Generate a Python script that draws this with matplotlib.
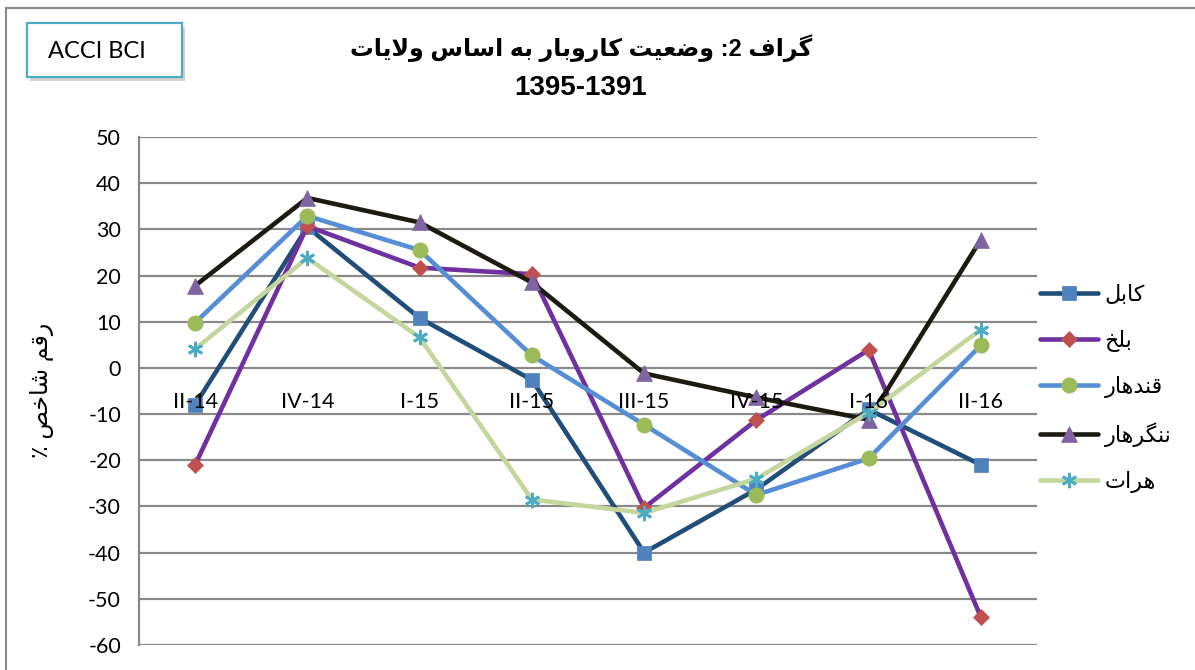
import matplotlib
matplotlib.use("Agg")
import matplotlib.pyplot as plt
from matplotlib.lines import Line2D
from matplotlib.patches import Rectangle
import re

# ---------------- data ----------------
categories = ["II-14", "IV-14", "I-15", "II-15", "III-15", "IV-15", "I-16", "II-16"]
kabul = [-8, 30.5, 10.8, -2.6, -40, -26.3, -9, -21]
balkh = [-21, 30.7, 21.7, 20.3, -30.3, -11.3, 3.9, -54]
kandahar = [9.8, 32.9, 25.5, 2.7, -12.3, -27.5, -19.6, 4.9]
nangarhar = [17.8, 36.8, 31.5, 18.5, -1.2, -6.4, -11.2, 27.8]
herat = [4.1, 23.8, 6.6, -28.5, -31.4, -24, -9.7, 8.3]
series_names = ["کابل", "بلخ", "قندهار", "ننگرهار", "هرات"]
title_line1 = "گراف 2: وضعیت کاروبار به اساس ولایات"
title_line2 = "1395-1391"
y_label = "رقم شاخص ٪"
badge = "ACCI BCI"
yticks = list(range(-60, 60, 10))

# ------------- simple Arabic/Persian shaping for display -------------
FORMS = {
    'ا': ('\uFE8D', '\uFE8E', None, None),
    'ب': ('\uFE8F', '\uFE90', '\uFE91', '\uFE92'),
    'ت': ('\uFE95', '\uFE96', '\uFE97', '\uFE98'),
    'خ': ('\uFEA5', '\uFEA6', '\uFEA7', '\uFEA8'),
    'د': ('\uFEA9', '\uFEAA', None, None),
    'ر': ('\uFEAD', '\uFEAE', None, None),
    'س': ('\uFEB1', '\uFEB2', '\uFEB3', '\uFEB4'),
    'ش': ('\uFEB5', '\uFEB6', '\uFEB7', '\uFEB8'),
    'ص': ('\uFEB9', '\uFEBA', '\uFEBB', '\uFEBC'),
    'ض': ('\uFEBD', '\uFEBE', '\uFEBF', '\uFEC0'),
    'ع': ('\uFEC9', '\uFECA', '\uFECB', '\uFECC'),
    'ف': ('\uFED1', '\uFED2', '\uFED3', '\uFED4'),
    'ق': ('\uFED5', '\uFED6', '\uFED7', '\uFED8'),
    'ل': ('\uFEDD', '\uFEDE', '\uFEDF', '\uFEE0'),
    'م': ('\uFEE1', '\uFEE2', '\uFEE3', '\uFEE4'),
    'ن': ('\uFEE5', '\uFEE6', '\uFEE7', '\uFEE8'),
    'ه': ('\uFEE9', '\uFEEA', '\uFEEB', '\uFEEC'),
    'و': ('\uFEED', '\uFEEE', None, None),
    'ک': ('\uFB8E', '\uFB8F', '\uFB90', '\uFB91'),
    'گ': ('\uFB92', '\uFB93', '\uFB94', '\uFB95'),
    'ی': ('\uFBFC', '\uFBFD', '\uFBFE', '\uFBFF'),
}


def joins_next(c):
    return c in FORMS and FORMS[c][2] is not None


def shape(s):
    out = []
    n = len(s)
    i = 0
    while i < n:
        c = s[i]
        if c not in FORMS:
            out.append(c)
            i += 1
            continue
        prev = s[i - 1] if i > 0 else None
        jp = prev is not None and joins_next(prev)
        if c == 'ل' and i + 1 < n and s[i + 1] == 'ا':
            out.append('\uFEFC' if jp else '\uFEFB')
            i += 2
            continue
        nxt = s[i + 1] if i + 1 < n else None
        jn = joins_next(c) and nxt in FORMS
        iso, fin, ini, med = FORMS[c]
        if jp and jn:
            out.append(med)
        elif jp:
            out.append(fin)
        elif jn:
            out.append(ini)
        else:
            out.append(iso)
        i += 1
    vis = "".join(out)[::-1]
    # keep digit runs left-to-right
    return re.sub(r"[0-9]+", lambda m: m.group(0)[::-1], vis)


# ---------------- styles ----------------
line_colors = ["#1F4E79", "#7030A0", "#558ED5", "#1D1B10", "#C3D69B"]
marker_colors = ["#4F81BD", "#C0504D", "#9BBB59", "#8064A2", "#4BACC6"]
markers = ["s", "D", "o", "^", (6, 2, 0)]
msizes = [10, 8.5, 11, 11, 11]
grid_col = "#898989"
AR_FONT = ["Liberation Sans", "DejaVu Sans"]
LAT_FONT = ["Lato", "DejaVu Sans"]

W, H = 1195, 670
fig = plt.figure(figsize=(W / 100, H / 100), dpi=100)
fig.patch.set_facecolor("white")

ax = fig.add_axes([139 / W, 1 - 645 / H, (1037 - 139) / W, (645 - 137) / H])
ax.spines["bottom"].set_visible(False)
ax.spines["top"].set_visible(False)
ax.spines["right"].set_visible(False)
ax.spines["left"].set_color(grid_col)
ax.spines["left"].set_linewidth(1.6)
ax.set_xlim(-0.5, len(categories) - 0.5)
ax.set_ylim(-60, 50)
ax.set_yticks(yticks)
ax.set_yticklabels([str(t) for t in yticks], fontfamily=LAT_FONT, fontsize=15.5)
ax.tick_params(axis="y", length=0, pad=13, colors="black", labelsize=15.5)
ax.set_xticks(range(len(categories)))
ax.tick_params(axis="x", length=0, labelbottom=False)
ax.yaxis.grid(True, color=grid_col, linewidth=1.6)
ax.set_axisbelow(True)
ax.patch.set_alpha(0)

all_series = [kabul, balkh, kandahar, nangarhar, herat]
handles = []
xs = list(range(len(categories)))
for k, vals in enumerate(all_series):
    is_star = k == 4
    (h,) = ax.plot(
        xs, vals, color=line_colors[k], linewidth=3.3, marker=markers[k],
        markersize=msizes[k], markerfacecolor=marker_colors[k],
        markeredgecolor=marker_colors[k], markeredgewidth=2.0 if is_star else 0.5,
        solid_capstyle="round", solid_joinstyle="round", clip_on=False, zorder=3 + k,
    )
    handles.append(h)

# category labels next to the zero line, drawn above the series (as in Excel)
for i, cat in enumerate(categories):
    ax.annotate(cat, (i, 0), xytext=(0, -17), textcoords="offset points",
                ha="center", va="top", fontsize=15.5, family=LAT_FONT,
                color="black", zorder=20, annotation_clip=False)

leg = fig.legend(
    handles, [shape(n) for n in series_names], loc="center left",
    bbox_to_anchor=(1040 / W, 1 - 389 / H), bbox_transform=fig.transFigure,
    frameon=False, borderaxespad=0, borderpad=0, handlelength=2.6,
    handletextpad=0.3, labelspacing=1.08,
    prop={"family": AR_FONT, "size": 16},
)

# titles
fig.text(581 / W, 1 - 48 / H, shape(title_line1), ha="center", va="center",
         fontsize=17, fontweight="bold", family=AR_FONT)
fig.text(581 / W, 1 - 88 / H, title_line2, ha="center", va="center",
         fontsize=20, fontweight="bold", family=AR_FONT)

# y label
fig.text(42 / W, 1 - 390 / H, shape(y_label), ha="center", va="center",
         rotation=90, fontsize=17, family=AR_FONT)

# chart area border
fig.add_artist(Line2D([6 / W, 6 / W], [0, 1 - 8 / H], color="#8a8a8a", lw=1.5,
                      transform=fig.transFigure))
fig.add_artist(Line2D([6 / W, 1], [1 - 8 / H, 1 - 8 / H], color="#8a8a8a", lw=1.5,
                      transform=fig.transFigure))

# badge with shadow
bx0, by0, bx1, by1 = 27, 23, 182, 77
fig.add_artist(Rectangle(((bx0 + 3) / W, 1 - (by1 + 4) / H), (bx1 - bx0) / W, (by1 - by0) / H,
                         transform=fig.transFigure, facecolor="#b5b5b5", edgecolor="none",
                         alpha=0.6, zorder=1))
fig.add_artist(Rectangle((bx0 / W, 1 - by1 / H), (bx1 - bx0) / W, (by1 - by0) / H,
                         transform=fig.transFigure, facecolor="white", edgecolor="#4BACC6",
                         linewidth=1.6, zorder=2))
fig.text((bx0 + bx1) / 2 / W - 8 / W, 1 - 52 / H, badge, ha="center", va="center",
         fontsize=17, family=LAT_FONT, zorder=3)

fig.savefig("out.png", dpi=100, facecolor="white")
